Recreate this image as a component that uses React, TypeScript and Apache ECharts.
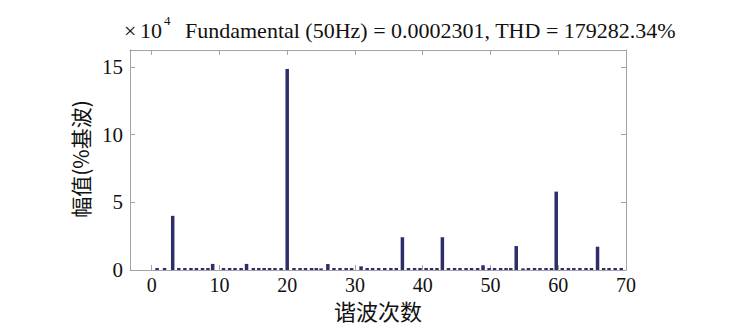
import React, { useEffect, useRef } from "react";
import * as echarts from "echarts";

// Harmonic spectrum (amplitude in units of 10^4 % of fundamental)
const peakOrders = [3.1, 9.0, 14.0, 15.0, 20.0, 25.0, 26.0, 30.9, 37.0, 42.9, 48.9, 53.8, 54.8, 59.7, 65.8];
const peakValues = [4.0, 0.45, 0.45, 0.15, 14.85, 0.12, 0.44, 0.27, 2.42, 2.42, 0.35, 1.77, 0.12, 5.79, 1.72];

// Noise-floor bins (small dashes along the baseline)
const floorOrders = [
  0.8, 1.9, 4.0, 4.9, 5.8, 6.6, 7.5, 8.3, 10.6, 11.5, 12.3, 13.2, 15.8, 16.6, 17.4, 18.2, 19.1,
  21.0, 21.9, 22.7, 23.6, 24.3, 26.9, 27.8, 28.7, 29.5, 31.8, 32.6, 33.5, 34.4, 35.3, 36.1,
  37.9, 38.8, 39.6, 40.5, 41.3, 42.1, 43.8, 44.7, 45.5, 46.4, 47.2, 48.1, 49.8, 50.6, 51.5,
  52.3, 53.0, 55.6, 56.5, 57.3, 58.2, 59.0, 60.6, 61.5, 62.3, 63.2, 64.1, 64.9, 66.7, 67.5,
  68.4, 69.3,
];
const floorValues = [
  0.15, 0.15, 0.15, 0.15, 0.15, 0.15, 0.15, 0.15, 0.15, 0.15, 0.15, 0.15, 0.15, 0.15, 0.15, 0.15, 0.15,
  0.15, 0.15, 0.15, 0.15, 0.15, 0.15, 0.15, 0.15, 0.15, 0.15, 0.15, 0.15, 0.15, 0.15, 0.15,
  0.15, 0.15, 0.15, 0.15, 0.15, 0.15, 0.15, 0.15, 0.15, 0.15, 0.15, 0.15, 0.15, 0.15, 0.15,
  0.15, 0.15, 0.15, 0.15, 0.15, 0.15, 0.15, 0.15, 0.15, 0.15, 0.15, 0.15, 0.15, 0.15, 0.15,
  0.15, 0.15,
];

const xTickLabels = ["0", "10", "20", "30", "40", "50", "60", "70"];
const yTickLabels = ["0", "5", "10", "15"];

const titleMain = "Fundamental (50Hz) = 0.0002301, THD = 179282.34%";
const xName = "谐波次数";
const yName = "幅值(%基波)";

const SERIF = "'Liberation Serif', 'Times New Roman', serif";
const CJK = "'Noto Sans CJK SC', sans-serif";
const AXIS_COLOR = "#a3a3a3";
const BAR_COLOR = "#2e2e6a";

export default function App() {
  const ref = useRef<HTMLDivElement>(null);

  useEffect(() => {
    if (!ref.current) return;
    const chart = echarts.init(ref.current, undefined, { renderer: "svg" });

    const data: [number, number][] = [
      ...peakOrders.map((x, i) => [x, peakValues[i]] as [number, number]),
      ...floorOrders.map((x, i) => [x, floorValues[i]] as [number, number]),
    ];

    const xCommon = {
      type: "value" as const,
      min: -3.2,
      max: 70,
      minInterval: 10,
      maxInterval: 10,
      splitNumber: 7,
      splitLine: { show: false },
      axisLine: { show: true, onZero: false, lineStyle: { color: AXIS_COLOR, width: 1 } },
      axisTick: { show: true, inside: true, length: 5, lineStyle: { color: AXIS_COLOR } },
    };
    const yCommon = {
      type: "value" as const,
      min: 0,
      max: 16.25,
      interval: 5,
      splitLine: { show: false },
      axisLine: { show: true, onZero: false, lineStyle: { color: AXIS_COLOR, width: 1 } },
      axisTick: { show: true, inside: true, length: 5, lineStyle: { color: AXIS_COLOR } },
    };

    chart.setOption({
      animation: false,
      backgroundColor: "#ffffff",
      grid: { left: 130, top: 50, width: 496, height: 220, containLabel: false },
      xAxis: [
        {
          ...xCommon,
          position: "bottom",
          axisLabel: {
            show: true,
            showMinLabel: false,
            margin: 6,
            color: "#111",
            fontFamily: SERIF,
            fontSize: 20,
            lineHeight: 18,
            formatter: (v: number) => {
              const s = String(Math.round(v));
              return xTickLabels.includes(s) && Math.abs(v - Math.round(v)) < 1e-6 ? s : "";
            },
          },
        },
        { ...xCommon, position: "top", axisLabel: { show: false } },
      ],
      yAxis: [
        {
          ...yCommon,
          position: "left",
          axisLabel: {
            show: true,
            showMaxLabel: false,
            margin: 7,
            color: "#111",
            fontFamily: SERIF,
            fontSize: 21,
            formatter: (v: number) => {
              const s = String(v);
              return yTickLabels.includes(s) ? s : "";
            },
          },
        },
        { ...yCommon, position: "right", axisLabel: { show: false } },
      ],
      series: [
        {
          type: "bar",
          xAxisIndex: 0,
          yAxisIndex: 0,
          barWidth: 3.5,
          itemStyle: { color: BAR_COLOR },
          data,
        },
      ],
      graphic: [
        {
          type: "text",
          left: 124,
          top: 19,
          style: { text: "×", font: `22px ${SERIF}`, fill: "#111" },
        },
        {
          type: "text",
          left: 140,
          top: 19,
          style: { text: "10", font: `22px ${SERIF}`, fill: "#111" },
        },
        {
          type: "text",
          left: 164,
          top: 14,
          style: { text: "4", font: `13px ${SERIF}`, fill: "#111" },
        },
        {
          type: "text",
          left: 185,
          top: 19,
          style: { text: titleMain, font: `22px ${SERIF}`, fill: "#111" },
        },
        {
          type: "text",
          x: 80,
          y: 159,
          rotation: Math.PI / 2,
          style: {
            text: yName,
            font: `21px ${CJK}`,
            fill: "#111",
            align: "center",
            verticalAlign: "middle",
          },
        },
        {
          type: "text",
          x: 378,
          y: 310,
          style: {
            text: xName,
            font: `22px ${CJK}`,
            fill: "#111",
            align: "center",
            verticalAlign: "middle",
            lineHeight: 20,
          },
        },
      ],
    });

    return () => chart.dispose();
  }, []);

  return (
    <div
      ref={ref}
      style={{ position: "fixed", left: 0, top: 0, width: 739, height: 332, background: "#fff" }}
    />
  );
}
